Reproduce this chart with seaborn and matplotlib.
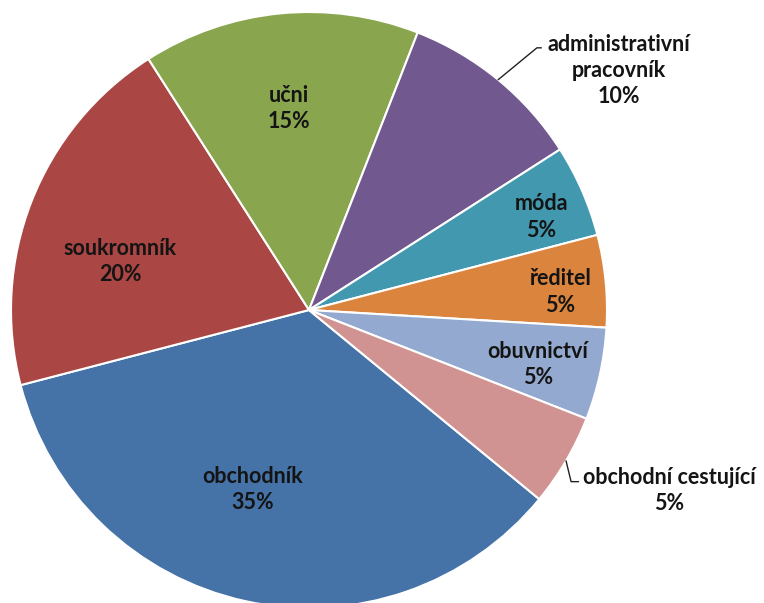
import numpy as np
import seaborn as sns
import matplotlib.pyplot as plt

# data (Excel series order)
labels = ["obchodník", "soukromník", "učni", "administrativní\npracovník", "móda",
          "ředitel", "obuvnictví", "obchodní cestující"]
shares = [35, 20, 15, 10, 5, 5, 5, 5]
colors = ["#4572A7", "#AA4643", "#89A54E", "#71588F", "#4198AF",
          "#DB843D", "#93A9CF", "#D19392"]
# label placement: fraction of radius, clockwise angle nudge (deg)
label_dist = [0.63, 0.655, 0.68, None, 0.84, 0.845, 0.79, None]
label_turn = [5.0, -6.9, 0.0, 0.0, 1.8, 1.5, 0.9, 0.0]

sns.set_style("white")
plt.rcParams['font.family'] = ['Lato', 'DejaVu Sans']

fig = plt.figure(figsize=(7.64, 6.03), dpi=100)
ax = fig.add_axes([0, 0, 1, 1])

# first slice starts at 129.4 deg clockwise from 12 o'clock
start = 90 - 129.4
wedges, _ = ax.pie(shares, colors=colors, startangle=start, counterclock=False,
                   radius=1, wedgeprops=dict(edgecolor="white", linewidth=1.5))

txt = dict(fontsize=15.5, fontweight="bold", color="#141414", ha="center", va="center",
           linespacing=1.3, multialignment="center")
total = sum(shares)
for w, lab, s, d, t in zip(wedges, labels, shares, label_dist, label_turn):
    mid = np.deg2rad((w.theta1 + w.theta2) / 2)
    text = f"{lab}\n{round(100 * s / total)}%"
    if d is not None:
        a = mid - np.deg2rad(t)
        ax.text(d * np.cos(a), d * np.sin(a), text, **txt)
    else:
        x0, y0 = np.cos(mid), np.sin(mid)
        if y0 > 0:
            # leader up-right to label
            ex, ey = x0 + 0.13, y0 + 0.107
            ax.plot([x0, ex, ex + 0.015], [y0, ey, ey], color="#222222", lw=1)
            ax.text(ex + 0.275, ey - 0.077, text, **txt)
        else:
            ex, ey = x0 + 0.017, y0 - 0.07
            ax.plot([x0, ex, ex + 0.025], [y0, ey, ey], color="#222222", lw=1)
            ax.text(ex + 0.33, ey - 0.03, text, **txt)

ax.set_aspect("auto")
ax.set_xlim(-309 / 298, (764 - 309) / 298)
ax.set_ylim(-(603 - 310) / 298, 310 / 298)
ax.axis("off")

plt.savefig("out.png", dpi=100)
